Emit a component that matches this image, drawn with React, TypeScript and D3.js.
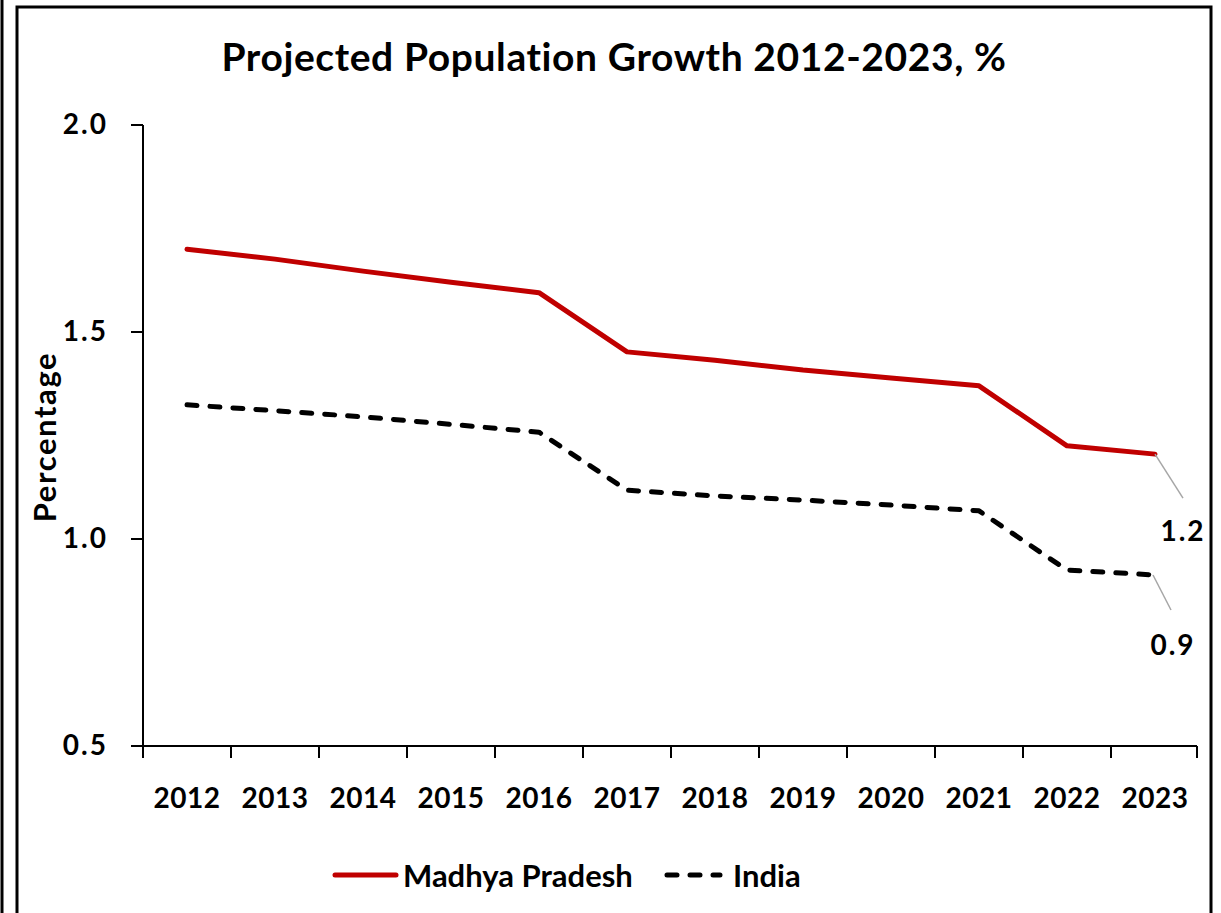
import React from "react";
import * as d3 from "d3";

const years = ["2012","2013","2014","2015","2016","2017","2018","2019","2020","2021","2022","2023"];
const madhyaPradesh = [1.70, 1.676, 1.647, 1.62, 1.595, 1.452, 1.432, 1.408, 1.389, 1.370, 1.225, 1.205];
const india = [1.324, 1.31, 1.295, 1.277, 1.258, 1.118, 1.104, 1.094, 1.082, 1.068, 0.925, 0.913];
const yTicks = [0.5, 1.0, 1.5, 2.0];
const title = "Projected Population Growth 2012-2023, %";
const yTitle = "Percentage";
const seriesNames = ["Madhya Pradesh", "India"];
const endLabels = ["1.2", "0.9"];

const FONT = "Lato, 'Open Sans', sans-serif";

export default function App() {
  const W = 1221, H = 913;
  const left = 143, right = 1199, top = 125, bottom = 746;
  const x = d3.scaleBand<string>().domain(years).range([left, right]);
  const y = d3.scaleLinear().domain([0.5, 2.0]).range([bottom, top]);
  const cx = (yr: string) => (x(yr) as number) + x.bandwidth() / 2;
  const line = d3.line<number>().x((_, i) => cx(years[i])).y((d) => y(d));
  const tickXs = years.map((yr) => x(yr) as number).concat([right - 2]);
  const lastYear = years[years.length - 1];
  const lx = cx(lastYear);
  const mpLast = madhyaPradesh[madhyaPradesh.length - 1];
  const inLast = india[india.length - 1];

  return (
    <svg width={W} height={H} style={{ position: "absolute", left: 0, top: 0, background: "#fff" }}>
      <rect x={0} y={0} width={W} height={H} fill="#fff" />
      <line x1={2} y1={0} x2={2} y2={H} stroke="#000" strokeWidth={3} />
      <path d={`M17,${H} V7 H1211 V${H}`} fill="none" stroke="#000" strokeWidth={3} />
      <text x={614} y={71} textAnchor="middle" fontFamily={FONT} fontWeight={700} fontSize={39} letterSpacing={0.6} fill="#000">{title}</text>

      {/* y axis */}
      <line x1={left} y1={top} x2={left} y2={bottom} stroke="#000" strokeWidth={2} />
      {yTicks.map((t) => (
        <g key={t}>
          <line x1={left - 12} x2={left} y1={y(t)} y2={y(t)} stroke="#000" strokeWidth={2} />
          <text x={108} y={y(t) + 9} textAnchor="end" fontFamily={FONT} fontWeight={700} fontSize={28} letterSpacing={2} fill="#000">{t.toFixed(1)}</text>
        </g>
      ))}
      <text transform={`translate(56,${437}) rotate(-90)`} textAnchor="middle" fontFamily={FONT} fontWeight={700} fontSize={31} letterSpacing={1.6} fill="#000">{yTitle}</text>

      {/* x axis */}
      <line x1={left} y1={bottom} x2={right - 2} y2={bottom} stroke="#000" strokeWidth={2} />
      {tickXs.map((tx, i) => (
        <line key={i} x1={tx} x2={tx} y1={bottom} y2={bottom + 12} stroke="#000" strokeWidth={2} />
      ))}
      {years.map((yr) => (
        <text key={yr} x={cx(yr)} y={808} textAnchor="middle" fontFamily={FONT} fontWeight={700} fontSize={28} letterSpacing={0.5} fill="#000">{yr}</text>
      ))}

      {/* series */}
      <path d={line(madhyaPradesh) as string} fill="none" stroke="#C00000" strokeWidth={5} strokeLinejoin="round" strokeLinecap="round" />
      <path d={line(india) as string} fill="none" stroke="#000" strokeWidth={5} strokeDasharray="10,13" strokeLinejoin="round" strokeLinecap="round" />

      {/* end labels with leader lines */}
      <line x1={lx} y1={y(mpLast)} x2={lx + 28} y2={y(mpLast) + 44} stroke="#A6A6A6" strokeWidth={1.5} />
      <text x={1183} y={541} textAnchor="middle" fontFamily={FONT} fontWeight={700} fontSize={28} letterSpacing={2} fill="#000">{endLabels[0]}</text>
      <line x1={lx - 2} y1={y(inLast)} x2={lx + 16} y2={y(inLast) + 35} stroke="#A6A6A6" strokeWidth={1.5} />
      <text x={1173} y={655} textAnchor="middle" fontFamily={FONT} fontWeight={700} fontSize={28} letterSpacing={2} fill="#000">{endLabels[1]}</text>

      {/* legend */}
      <line x1={335} x2={396} y1={875} y2={875} stroke="#C00000" strokeWidth={5} strokeLinecap="round" />
      <text x={403} y={887} fontFamily={FONT} fontWeight={700} fontSize={31} fill="#000">{seriesNames[0]}</text>
      <line x1={667} x2={720} y1={875} y2={875} stroke="#000" strokeWidth={5} strokeDasharray="10,13" strokeLinecap="round" />
      <text x={733} y={887} fontFamily={FONT} fontWeight={700} fontSize={31} fill="#000">{seriesNames[1]}</text>
    </svg>
  );
}
